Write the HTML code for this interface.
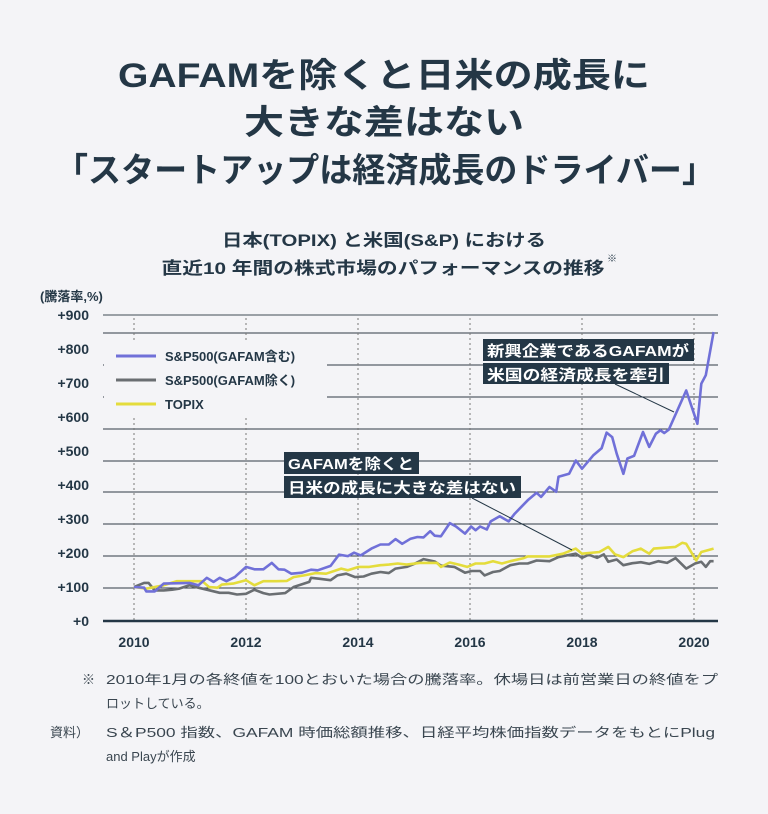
<!DOCTYPE html>
<html><head><meta charset="utf-8">
<style>
html,body{margin:0;padding:0;background:#f4f4f7;}
svg{display:block;font-family:"Liberation Sans","Noto Sans CJK JP",sans-serif;}
</style></head>
<body>
<svg id="chart" width="768" height="814" viewBox="0 0 768 814" xmlns="http://www.w3.org/2000/svg">
<rect x="0" y="0" width="768" height="814" fill="#f4f4f7"/>
<g fill="#243746" font-weight="bold" text-anchor="middle">
<text x="384" y="87" font-size="34" textLength="532" lengthAdjust="spacingAndGlyphs">GAFAMを除くと日米の成長に</text>
<text x="384" y="134" font-size="34" textLength="280" lengthAdjust="spacingAndGlyphs">大きな差はない</text>
<text x="385" y="182" font-size="34" textLength="660" lengthAdjust="spacingAndGlyphs">「スタートアップは経済成長のドライバー」</text>
</g>
<g fill="#243746" font-weight="bold" text-anchor="middle">
<text x="384" y="246" font-size="17" textLength="324" lengthAdjust="spacingAndGlyphs">日本(TOPIX) と米国(S&amp;P) における</text>
<text x="383" y="274" font-size="17" textLength="443" lengthAdjust="spacingAndGlyphs">直近10 年間の株式市場のパフォーマンスの推移</text>
<text x="612" y="262" font-size="10">※</text>
</g>
<text x="40" y="301" font-size="13" font-weight="bold" fill="#243746">(騰落率,%)</text>
<g id="grid"></g>
<g id="yticks"></g>
<g id="xticks"></g>
<g id="series"></g>
<rect x="104" y="342" width="223" height="76" fill="#f4f4f7"/>
<g font-size="13" font-weight="bold" fill="#243746">
<line x1="116" y1="356" x2="156" y2="356" stroke="#7070d8" stroke-width="3"/>
<text x="165" y="361">S&amp;P500(GAFAM含む)</text>
<line x1="116" y1="380" x2="156" y2="380" stroke="#6a6e72" stroke-width="3"/>
<text x="165" y="385">S&amp;P500(GAFAM除く)</text>
<line x1="116" y1="404" x2="156" y2="404" stroke="#e4dc3c" stroke-width="3"/>
<text x="165" y="409">TOPIX</text>
</g>
<g>
<line x1="615" y1="384" x2="674" y2="412" stroke="#243746" stroke-width="1"/>
<rect x="483" y="339" width="211" height="22" fill="#243746"/>
<rect x="483" y="363" width="186" height="21" fill="#243746"/>
<text x="487" y="356" font-size="15" font-weight="bold" fill="#fff" textLength="202" lengthAdjust="spacingAndGlyphs">新興企業であるGAFAMが</text>
<text x="487" y="380" font-size="15" font-weight="bold" fill="#fff" textLength="178" lengthAdjust="spacingAndGlyphs">米国の経済成長を牽引</text>
</g>
<g>
<line x1="472" y1="498" x2="572" y2="550" stroke="#243746" stroke-width="1"/>
<rect x="284" y="452" width="135" height="22" fill="#243746"/>
<rect x="284" y="476" width="237" height="22" fill="#243746"/>
<text x="288" y="469" font-size="15" font-weight="bold" fill="#fff" textLength="126" lengthAdjust="spacingAndGlyphs">GAFAMを除くと</text>
<text x="288" y="493" font-size="15" font-weight="bold" fill="#fff" textLength="228" lengthAdjust="spacingAndGlyphs">日米の成長に大きな差はない</text>
</g>
<g font-size="13" fill="#3a4650">
<text x="82" y="684">※</text>
<text x="106" y="684" textLength="612" lengthAdjust="spacingAndGlyphs">2010年1月の各終値を100とおいた場合の騰落率。休場日は前営業日の終値をプ</text>
<text x="106" y="708">ロットしている。</text>
<text x="50" y="737">資料）</text>
<text x="106" y="737" textLength="609" lengthAdjust="spacingAndGlyphs">S＆P500 指数、GAFAM 時価総額推移、日経平均株価指数データをもとにPlug</text>
<text x="106" y="761">and Playが作成</text>
</g>
</svg>
<script>
const yTicks=[0,100,200,300,400,500,600,700,800,900];
const yTickLabels=["+0","+100","+200","+300","+400","+500","+600","+700","+800","+900"];
const xTicks=[2010,2012,2014,2016,2018,2020];
const spDates=[2010.00,2010.18,2010.22,2010.37,2010.53,2010.99,2011.15,2011.30,2011.42,2011.53,2011.65,2011.80,2012.00,2012.15,2012.31,2012.46,2012.58,2012.69,2012.81,2013.00,2013.16,2013.28,2013.51,2013.66,2013.82,2013.93,2014.05,2014.24,2014.40,2014.55,2014.67,2014.79,2014.94,2015.06,2015.17,2015.29,2015.37,2015.48,2015.64,2015.75,2015.91,2016.02,2016.10,2016.18,2016.30,2016.37,2016.53,2016.69,2016.80,2017.03,2017.19,2017.27,2017.42,2017.54,2017.58,2017.77,2017.89,2018.00,2018.20,2018.35,2018.44,2018.54,2018.62,2018.74,2018.81,2018.93,2019.09,2019.20,2019.32,2019.40,2019.47,2019.55,2019.86,2020.06,2020.13,2020.21,2020.35];
const spValues=[100,98,87,87,110,112,105,127,115,127,117,129,159,152,152,171,152,151,139,142,151,149,162,195,191,201,193,213,225,225,241,227,242,247,246,264,251,249,288,278,257,278,267,278,269,293,308,293,316,355,377,365,394,380,424,433,472,448,487,508,554,541,492,433,478,486,556,512,551,561,553,563,678,580,698,723,850];
const exDates=[2010.00,2010.18,2010.26,2010.37,2010.53,2010.68,2010.80,2010.99,2011.15,2011.30,2011.53,2011.69,2011.84,2012.00,2012.15,2012.31,2012.42,2012.70,2012.85,2013.13,2013.16,2013.32,2013.51,2013.63,2013.79,2013.95,2014.10,2014.24,2014.40,2014.55,2014.67,2014.87,2015.02,2015.17,2015.37,2015.48,2015.72,2015.91,2016.03,2016.18,2016.26,2016.41,2016.53,2016.72,2016.88,2017.03,2017.19,2017.42,2017.58,2017.73,2017.89,2018.00,2018.12,2018.27,2018.39,2018.47,2018.62,2018.74,2018.90,2019.05,2019.20,2019.36,2019.52,2019.67,2019.86,2020.02,2020.13,2020.21,2020.29,2020.35];
const exValues=[100,112,112,90,90,92,95,105,98,92,83,83,78,80,92,82,78,82,100,115,127,124,120,134,139,129,131,139,144,141,154,159,169,182,175,163,159,142,147,147,134,144,147,164,169,169,178,176,188,193,198,186,195,186,196,174,181,164,170,173,168,176,171,185,154,169,174,159,176,176];
const tpDates=[2010.00,2010.22,2010.53,2010.76,2010.99,2011.22,2011.34,2011.49,2011.57,2011.77,2012.00,2012.15,2012.31,2012.54,2012.73,2012.85,2013.04,2013.24,2013.43,2013.70,2013.82,2014.01,2014.20,2014.40,2014.55,2014.71,2014.87,2015.10,2015.41,2015.48,2015.64,2015.80,2015.95,2016.10,2016.26,2016.41,2016.57,2016.72,2016.96,2017.03,2017.42,2017.66,2017.89,2018.00,2018.31,2018.47,2018.59,2018.74,2018.90,2019.05,2019.20,2019.28,2019.67,2019.79,2019.86,2020.04,2020.13,2020.35];
const tpValues=[100,95,105,117,117,117,100,98,107,110,120,105,117,117,118,129,134,141,139,154,149,159,159,164,166,169,166,171,171,159,172,166,159,169,169,176,169,176,185,190,190,198,213,198,203,218,196,188,205,213,198,213,218,230,227,178,203,213];

const NS="http://www.w3.org/2000/svg";
const X=y=>134+(y-2010)*56;
const Y=v=>621-v*0.34;
function mk(tag,attrs,parent){const e=document.createElementNS(NS,tag);for(const k in attrs)e.setAttribute(k,attrs[k]);parent.appendChild(e);return e;}
const grid=document.getElementById('grid');
[333,365,397,429,461,492,524,556,588].forEach(gy=>{
  const l=mk('line',{x1:103,x2:718,y1:gy,y2:gy,stroke:'#2f3a44','stroke-width':1},grid);
  
  
});
const topLine=mk('line',{x1:103,x2:718,y1:315,y2:315,stroke:'#9aa0a6','stroke-width':2},grid);


xTicks.forEach(t=>{
  const l=mk('line',{x1:X(t),x2:X(t),y1:318,y2:620,stroke:'#777','stroke-width':1,'stroke-dasharray':'2,3'},grid);
  
  
});
const baseLine=mk('line',{x1:103,x2:718,y1:621,y2:621,stroke:'#243746','stroke-width':2.5},grid);


const yt=document.getElementById('yticks');
yTicks.forEach((v,i)=>{
  const t=mk('text',{x:89,y:Y(v)+5,'text-anchor':'end','font-size':14,'font-weight':'bold',fill:'#243746'},yt);
  t.textContent=yTickLabels[i];
  
  
});
const xt=document.getElementById('xticks');
xTicks.forEach(v=>{
  const t=mk('text',{x:X(v),y:647,'text-anchor':'middle','font-size':14,'font-weight':'bold',fill:'#243746'},xt);
  t.textContent=String(v);
  
  
});
const sg=document.getElementById('series');
function drawLine(d,v,color,name){
  const pts=d.map((x,i)=>X(x).toFixed(1)+','+Y(v[i]).toFixed(1)).join(' ');
  const p=mk('polyline',{points:pts,fill:'none',stroke:color,'stroke-width':2.6,'stroke-linejoin':'round'},sg);
  
  
}
drawLine(exDates,exValues,'#6a6e72','line-sp500-ex-gafam');
drawLine(tpDates,tpValues,'#e4dc3c','line-topix');
drawLine(spDates,spValues,'#7070d8','line-sp500');
</script>
</body></html>
